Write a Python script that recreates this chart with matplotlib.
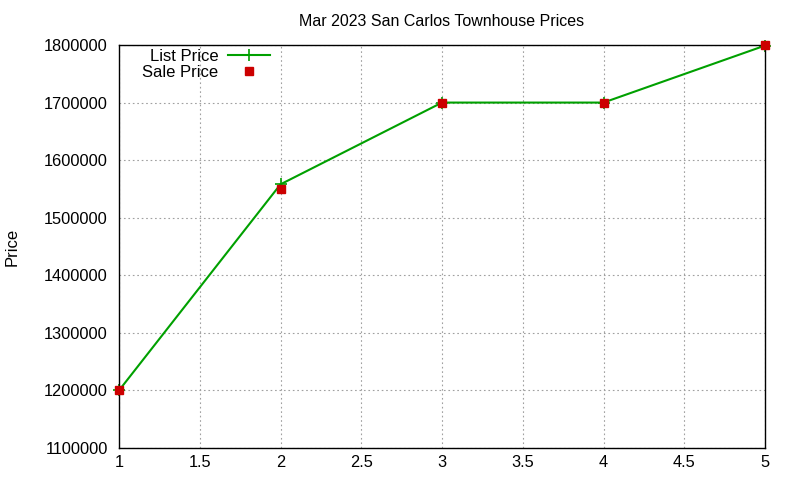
import matplotlib
matplotlib.use('Agg')
import matplotlib.pyplot as plt

plt.rcParams['font.family'] = ['Liberation Sans', 'DejaVu Sans']
plt.rcParams['font.size'] = 12

# data
x = [1, 2, 3, 4, 5]
list_price = [1200000, 1558000, 1700000, 1700000, 1799000]
sale_price = [1200000, 1550000, 1700000, 1700000, 1800000]

fig = plt.figure(figsize=(8, 4.8), dpi=100)
ax = fig.add_axes([119/800, 1 - 448/480, (765-119)/800, (448-45)/480])

ax.plot(x, list_price, color='#00a000', lw=1.5, marker='+', ms=8, mew=1.2,
        label='List Price', clip_on=False)
ax.plot(x, sale_price, ls='none', marker='s', ms=6, color='#cc0000',
        label='Sale Price', clip_on=False, zorder=3)

ax.set_xlim(1, 5)
ax.set_ylim(1100000, 1800000)
ax.set_xticks([1, 1.5, 2, 2.5, 3, 3.5, 4, 4.5, 5])
ax.set_xticklabels(['1', '1.5', '2', '2.5', '3', '3.5', '4', '4.5', '5'])
ax.set_yticks(range(1100000, 1800001, 100000))
ax.set_yticklabels([str(v) for v in range(1100000, 1800001, 100000)])
ax.grid(True, color='#a0a0a0', ls=(0, (1.5, 2.5)), lw=0.8)
ax.tick_params(direction='in', top=True, right=True, length=0, labelsize=11.8)
ax.tick_params(axis='y', pad=8)
ax.tick_params(axis='x', pad=5)
for s in ax.spines.values():
    s.set_linewidth(1)

ax.set_ylabel('Price')
ax.yaxis.set_label_coords((20 - 119) / 646, 0.5)
ax.set_title('Mar 2023 San Carlos Townhouse Prices', fontsize=11.5, pad=14)

leg = ax.legend(loc='upper left', bbox_to_anchor=(0.018, 1.02), frameon=False,
                markerfirst=False, handlelength=2.5, labelspacing=0.1,
                borderpad=0.2, handletextpad=0.6, fontsize=12)
for t in leg.get_texts():
    t.set_ha('right')

fig.savefig('out.png', dpi=100)
